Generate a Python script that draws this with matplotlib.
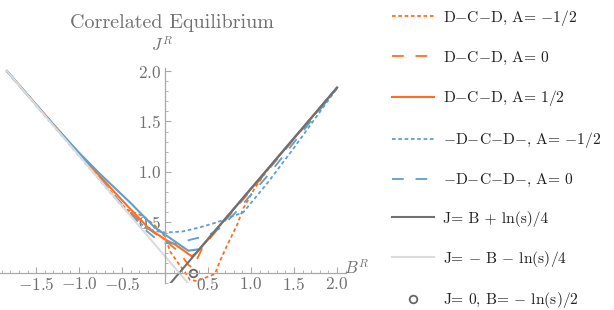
import matplotlib
matplotlib.use("Agg")
import matplotlib.pyplot as plt
from matplotlib.ticker import FuncFormatter, MultipleLocator

# curves, (B, J) pairs
b_dcd_m = [-1.84, -1.0, -0.45, -0.25, -0.12, 0.0, 0.06, 0.15, 0.23, 0.29, 0.37,
           0.58, 0.64, 0.72, 0.84, 0.91, 1.05, 1.22, 1.4, 2.0]
j_dcd_m = [2.0, 1.17, 0.63, 0.56, 0.47, 0.36, 0.21, 0.10, 0.01, -0.07, -0.08,
           -0.01, 0.12, 0.27, 0.48, 0.64, 0.85, 1.05, 1.235, 1.835]

b_dcd_0 = [-1.84, -1.0, -0.5, -0.2, 0.02, 0.17, 0.27, 0.32, 0.38, 0.44, 0.72, 1.2, 2.0]
j_dcd_0 = [2.0, 1.17, 0.68, 0.44, 0.31, 0.20, 0.08, 0.05, 0.15, 0.26, 0.54, 1.02, 1.835]

b_dcd_p = [-1.84, -1.0, -0.5, -0.2, 0.0, 0.12, 0.31, 0.36, 2.0]
j_dcd_p = [2.0, 1.18, 0.72, 0.45, 0.33, 0.28, 0.165, 0.195, 1.835]

b_mdcdm_m = [-1.84, -1.0, -0.5, -0.3, -0.2, 0.0, 0.2, 0.4, 0.6, 0.75, 0.91, 1.2, 1.5, 2.0]
j_mdcdm_m = [2.0, 1.16, 0.66, 0.50, 0.43, 0.40, 0.41, 0.45, 0.50, 0.55, 0.60, 0.90, 1.24, 1.83]

b_mdcdm_0 = [-1.84, -1.0, -0.5, -0.25, -0.05, 0.15, 0.3, 0.5, 0.65, 0.8, 1.2, 1.6, 2.0]
j_mdcdm_0 = [2.0, 1.17, 0.68, 0.44, 0.30, 0.29, 0.33, 0.37, 0.45, 0.58, 0.97, 1.40, 1.83]

b_mdcdm_p = [-1.84, -1.3, -1.0, -0.756, -0.41, -0.12, 0.27, 0.40, 0.7, 2.0]
j_mdcdm_p = [2.0, 1.47, 1.19, 0.98, 0.70, 0.45, 0.22, 0.235, 0.535, 1.835]

b_line_up = [0.0, 2.0]
j_line_up = [-0.165, 1.835]
b_line_dn = [-1.84, 0.4]
j_line_dn = [2.0, -0.235]
b_point = [0.33]
j_point = [0.0]

ORANGE = "#FF6E1C"
BLUE = "#5E9FCB"

plt.rcParams["font.family"] = "cmr10"
plt.rcParams["mathtext.fontset"] = "cm"
plt.rcParams["axes.formatter.use_mathtext"] = True

fig = plt.figure(figsize=(6.14, 3.10), dpi=100)
ax = fig.add_axes([0, 27 / 310, 345.6 / 614, 215 / 310])

lw = 1.3
ax.plot(b_dcd_m, j_dcd_m, color=ORANGE, lw=lw, ls=(0, (2, 1.5)),
        label=r"D$-$C$-$D, A= $-$1/2")
ax.plot(b_dcd_0, j_dcd_0, color=ORANGE, lw=lw, ls=(0, (6.5, 6.5)),
        label=r"D$-$C$-$D, A= 0")
ax.plot(b_dcd_p, j_dcd_p, color=ORANGE, lw=1.5, label=r"D$-$C$-$D, A= 1/2")
ax.plot(b_mdcdm_m, j_mdcdm_m, color=BLUE, lw=lw, ls=(0, (2, 1.5)),
        label=r"$-$D$-$C$-$D$-$, A= $-$1/2")
ax.plot(b_mdcdm_0, j_mdcdm_0, color=BLUE, lw=lw, ls=(0, (6.5, 6.5)),
        label=r"$-$D$-$C$-$D$-$, A= 0")
ax.plot(b_mdcdm_p, j_mdcdm_p, color=BLUE, lw=1.5)
ax.plot(b_line_up, j_line_up, color="#707070", lw=1.5, label="J= B + ln(s)/4")
ax.plot(b_line_dn, j_line_dn, color="#DCDCDC", lw=1.5,
        label=r"J= $-$ B $-$ ln(s)/4")
ax.plot(b_point, j_point, ls="none", marker="o", ms=5.5, mfc="none",
        mec="#666666", mew=1.3, label=r"J= 0, B= $-$ ln(s)/2")

ax.set_xlim(-1.92, 2.1)
ax.set_ylim(-0.1, 2.03)

for side in ["top", "right"]:
    ax.spines[side].set_visible(False)
for side in ["left", "bottom"]:
    ax.spines[side].set_position(("data", 0))
    ax.spines[side].set_color("#A8A8A8")
    ax.spines[side].set_linewidth(0.9)

ax.set_xticks([-1.5, -1.0, -0.5, 0.5, 1.0, 1.5, 2.0])
ax.set_yticks([0.5, 1.0, 1.5, 2.0])
ax.xaxis.set_minor_locator(MultipleLocator(0.1))
ax.yaxis.set_minor_locator(MultipleLocator(0.1))
fmt = FuncFormatter(lambda v, pos: r"$%.1f$" % v)
ax.xaxis.set_major_formatter(fmt)
ax.yaxis.set_major_formatter(fmt)
ax.tick_params(which="both", direction="in", color="#A8A8A8", labelcolor="#707070",
               labelsize=12.5)
ax.tick_params(which="major", length=4.5, width=0.8)
ax.tick_params(which="minor", length=2.5, width=0.6)
ax.tick_params(axis="x", pad=2)
ax.tick_params(axis="y", pad=3)

ax.text(-0.03, 2.26, r"$J^R$", color="#707070", fontsize=12, ha="center",
        va="center", clip_on=False)
ax.text(2.23, 0.05, r"$B^R$", color="#707070", fontsize=12, ha="center",
        va="center", clip_on=False)
fig.text(0.28, 0.926, "Correlated Equilibrium", color="#707070", fontsize=14.5,
         ha="center", va="center")

ax.legend(loc="upper left", bbox_to_anchor=(384 / 614, 1.0),
          bbox_transform=fig.transFigure, frameon=False, fontsize=11.2,
          handlelength=2.7, handletextpad=0.6, labelspacing=1.4, borderpad=0.5,
          borderaxespad=0, labelcolor="#222222")

fig.savefig("out.png", dpi=100)
